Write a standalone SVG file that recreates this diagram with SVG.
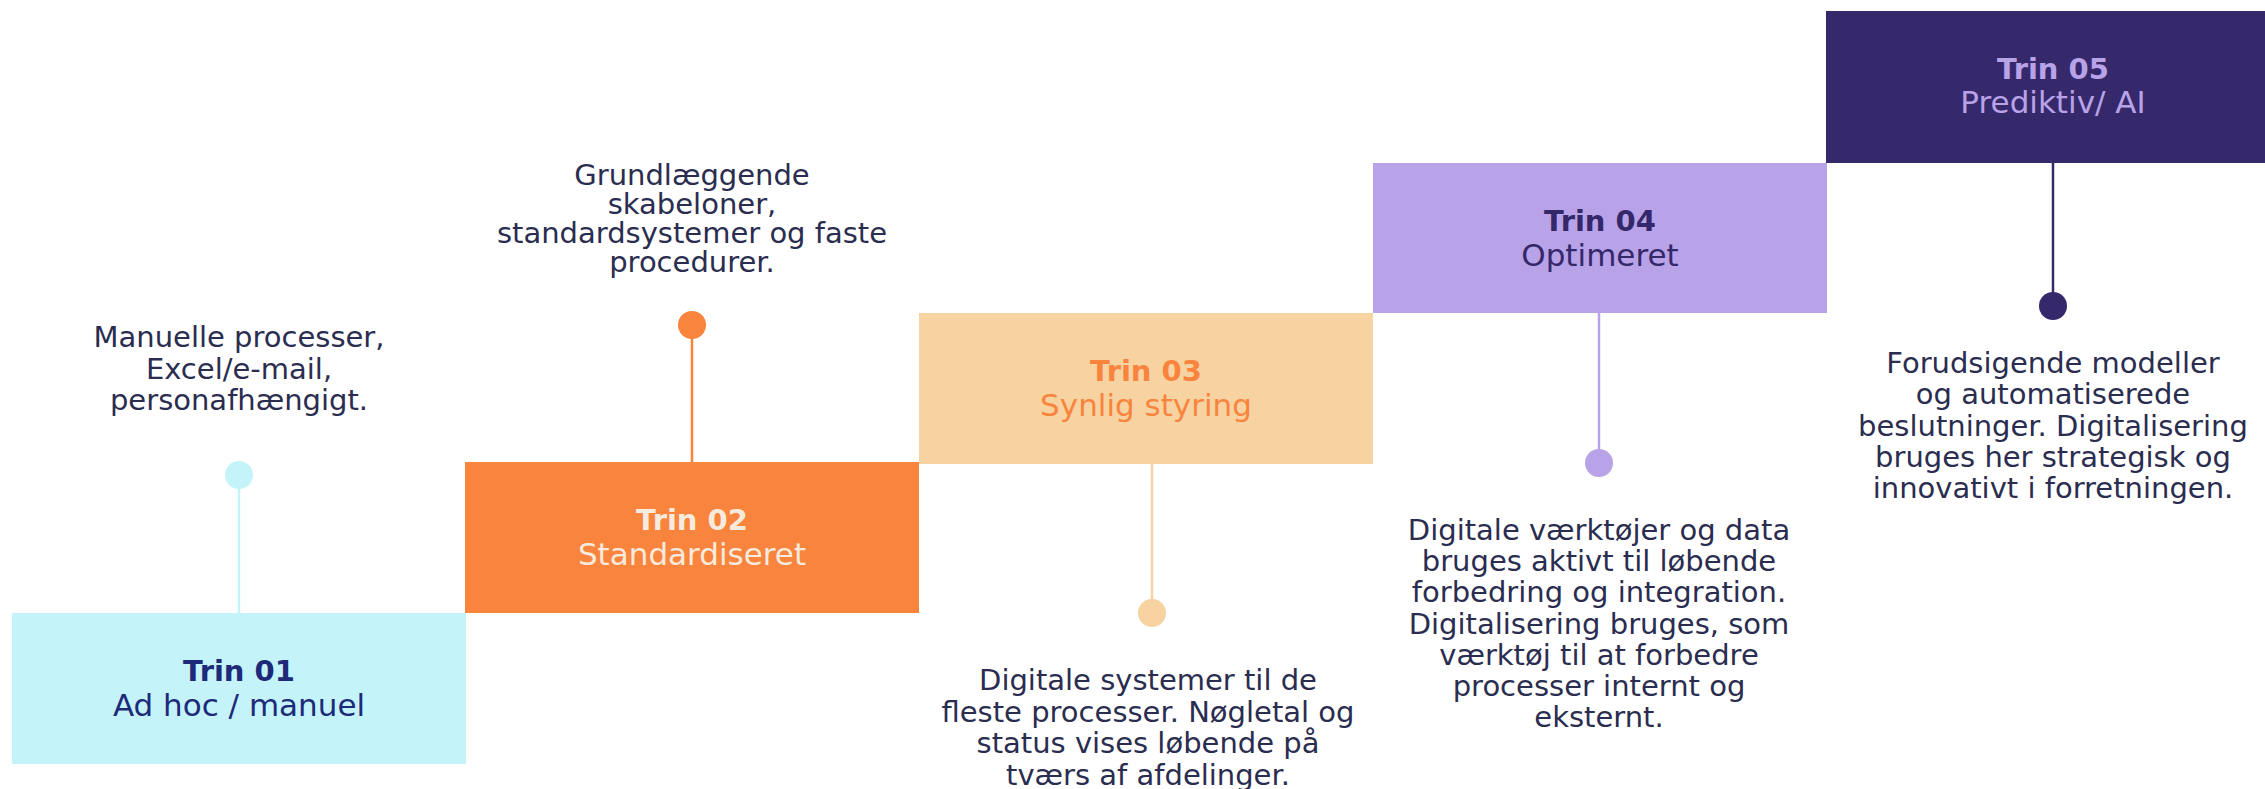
<svg xmlns="http://www.w3.org/2000/svg" width="2265" height="789" viewBox="0 0 2265 789">
<style>
.t{font-family:"DejaVu Sans","Open Sans",sans-serif;text-anchor:middle}
.h{font-size:29px;font-weight:700}
.s{font-size:31px;font-weight:400}
.d{font-size:29px;font-weight:400;fill:#2A2D4F}
.ln{stroke-width:2.5;fill:none}
</style>
<rect width="2265" height="789" fill="#FFFFFF"/>
<g id="connectors">
<line class="ln" x1="239" y1="475" x2="239" y2="613" stroke="#C4F4F9"/>
<circle cx="239" cy="475" r="14" fill="#C4F4F9"/>
<line class="ln" x1="692" y1="325" x2="692" y2="462" stroke="#F9843D"/>
<circle cx="692" cy="325" r="14" fill="#F9843D"/>
<line class="ln" x1="1152" y1="464" x2="1152" y2="613" stroke="#F7D3A2"/>
<circle cx="1152" cy="613" r="14" fill="#F7D3A2"/>
<line class="ln" x1="1599" y1="313" x2="1599" y2="463" stroke="#B9A3E8"/>
<circle cx="1599" cy="463" r="14" fill="#B9A3E8"/>
<line class="ln" x1="2053" y1="163" x2="2053" y2="306" stroke="#36296B"/>
<circle cx="2053" cy="306" r="14" fill="#36296B"/>
</g>
<g id="trin01">
<rect x="12" y="613" width="454" height="151" fill="#C4F4F9"/>
<text class="t" x="239" y="681" fill="#1D2A7A"><tspan class="h">Trin 01</tspan><tspan class="s" x="239" dy="35">Ad hoc / manuel</tspan></text>
<text class="t d" x="239" y="347">Manuelle processer,<tspan x="239" dy="31.5">Excel/e-mail,</tspan><tspan x="239" dy="31.5">personafhængigt.</tspan></text>
</g>
<g id="trin02">
<rect x="465" y="462" width="454" height="151" fill="#F9843D"/>
<text class="t" x="692" y="530" fill="#F6EBDD"><tspan class="h">Trin 02</tspan><tspan class="s" x="692" dy="35">Standardiseret</tspan></text>
<text class="t d" x="692" y="185">Grundlæggende<tspan x="692" dy="29">skabeloner,</tspan><tspan x="692" dy="29">standardsystemer og faste</tspan><tspan x="692" dy="28.5">procedurer.</tspan></text>
</g>
<g id="trin03">
<rect x="919" y="313" width="454" height="151" fill="#F7D3A2"/>
<text class="t" x="1146" y="381" fill="#F9843D"><tspan class="h">Trin 03</tspan><tspan class="s" x="1146" dy="35">Synlig styring</tspan></text>
<text class="t d" x="1148" y="690">Digitale systemer til de<tspan x="1148" dy="31.7">fleste processer. Nøgletal og</tspan><tspan x="1148" dy="31.7">status vises løbende på</tspan><tspan x="1148" dy="31.7">tværs af afdelinger.</tspan></text>
</g>
<g id="trin04">
<rect x="1373" y="163" width="454" height="150" fill="#B9A3E8"/>
<text class="t" x="1600" y="231" fill="#35286A"><tspan class="h">Trin 04</tspan><tspan class="s" x="1600" dy="35">Optimeret</tspan></text>
<text class="t d" x="1599" y="540">Digitale værktøjer og data<tspan x="1599" dy="31.2">bruges aktivt til løbende</tspan><tspan x="1599" dy="31.2">forbedring og integration.</tspan><tspan x="1599" dy="31.2">Digitalisering bruges, som</tspan><tspan x="1599" dy="31.2">værktøj til at forbedre</tspan><tspan x="1599" dy="31.2">processer internt og</tspan><tspan x="1599" dy="31.2">eksternt.</tspan></text>
</g>
<g id="trin05">
<rect x="1826" y="11" width="454" height="152" fill="#36296B"/>
<text class="t" x="2053" y="79" fill="#B9A3E8"><tspan class="h">Trin 05</tspan><tspan class="s" x="2053" dy="34">Prediktiv/ AI</tspan></text>
<text class="t d" x="2053" y="373">Forudsigende modeller<tspan x="2053" dy="31.3">og automatiserede</tspan><tspan x="2053" dy="31.3">beslutninger. Digitalisering</tspan><tspan x="2053" dy="31.3">bruges her strategisk og</tspan><tspan x="2053" dy="31.3">innovativt i forretningen.</tspan></text>
</g>
</svg>
